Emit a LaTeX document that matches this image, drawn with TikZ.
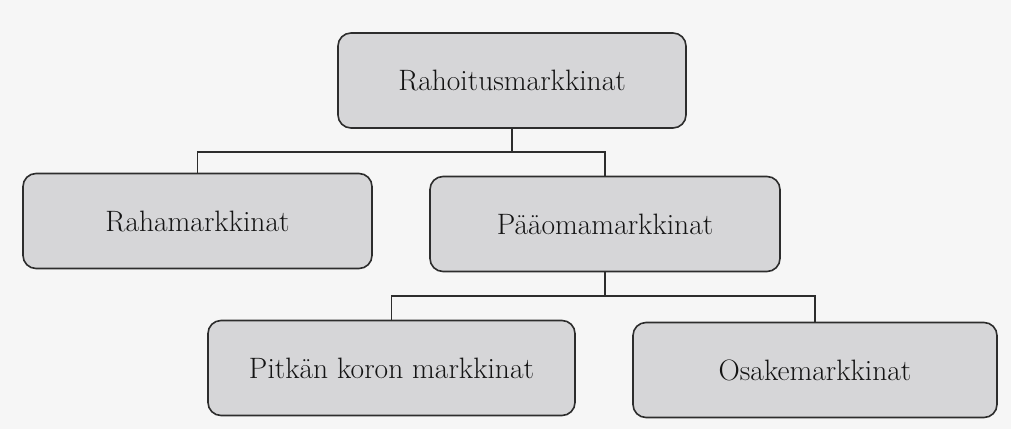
\documentclass[tikz,border=0pt]{standalone}
\usepackage{fontspec}
\usepackage{tikz}
\definecolor{boxfill}{RGB}{214,214,216}
\definecolor{paper}{RGB}{246,246,246}
\definecolor{edge}{RGB}{45,45,45}
\tikzset{
  mbox/.style={draw=edge, line width=1.6pt, fill=boxfill, rounded corners=13pt,
    minimum height=95pt, inner sep=0pt, font=\fontsize{29.5}{34}\selectfont, text=black!92},
  conn/.style={draw=edge, line width=1.2pt}
}
\begin{document}
\begin{tikzpicture}[x=1pt,y=-1pt]
\fill[paper] (0,0) rectangle (1011,429);
\useasboundingbox (0,0) rectangle (1011,429);
\node[mbox, minimum width=348pt] (top) at (512,80.5) {Rahoitusmarkkinat};
\node[mbox, minimum width=349pt] (raha) at (197.5,221) {Rahamarkkinat};
\node[mbox, minimum width=350pt] (paa) at (605,224) {Pääomamarkkinat};
\node[mbox, minimum width=367pt] (pitk) at (391.5,368) {Pitkän koron markkinat};
\node[mbox, minimum width=364pt] (osa) at (815,370) {Osakemarkkinat};
\coordinate (b1) at (512,152);
\coordinate (b2) at (605,296);
\draw[conn] (top.south) -- (b1) -| (raha.north);
\draw[conn] (b1) -| (paa.north);
\draw[conn] (paa.south) -- (b2) -| (pitk.north);
\draw[conn] (b2) -| (osa.north);
\end{tikzpicture}
\end{document}
